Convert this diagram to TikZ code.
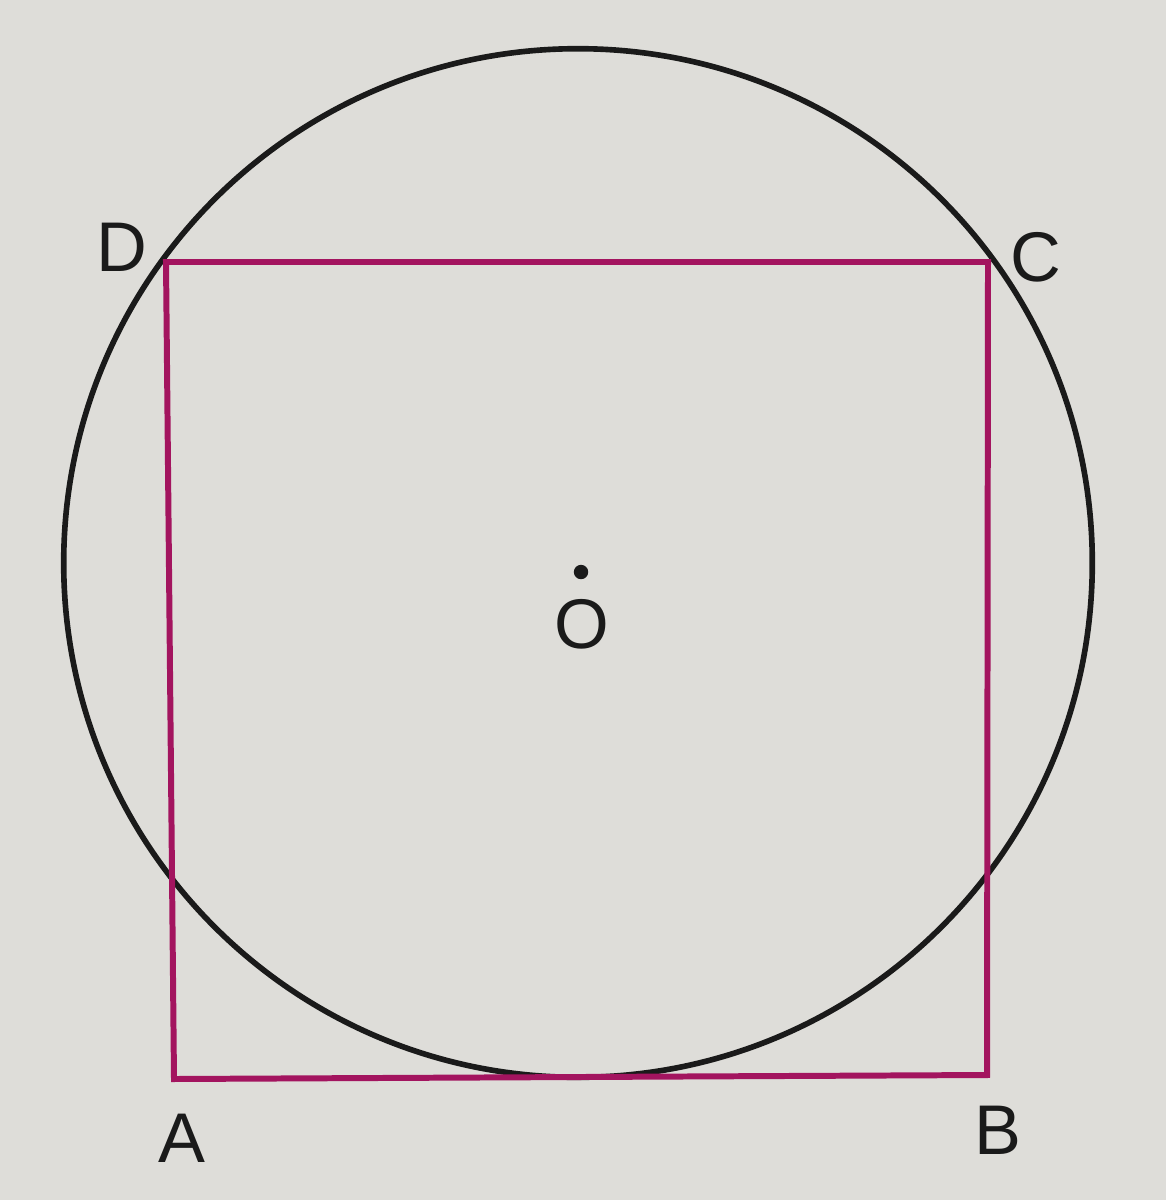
\documentclass[tikz,border=0pt]{standalone}
\usepackage{fontspec}
\setmainfont{Liberation Sans}
\definecolor{bgcol}{HTML}{DEDDD9}
\definecolor{sqcol}{HTML}{A3145F}
\definecolor{inkcol}{HTML}{1A1A1A}
\begin{document}
\begin{tikzpicture}[x=0.01cm,y=-0.01cm,
  lbl/.style={font=\fontsize{20}{24}\selectfont, text=inkcol, inner sep=0pt},
  circ/.style={draw=inkcol, line width=1.6pt},
  sq/.style={draw=sqcol, line width=1.7pt, line join=miter}]
\fill[bgcol] (0,0) rectangle (1166,1200);
\useasboundingbox (0,0) rectangle (1166,1200);
\coordinate (O) at (578,563);
\draw[circ] (O) circle [radius=5.14cm];
\coordinate (A) at (174,1079);
\coordinate (B) at (987,1075);
\coordinate (C) at (988,262);
\coordinate (D) at (166,262);
\draw[sq] (A) -- (B) -- (C) -- (D) -- cycle;
\fill[inkcol] (581,572) circle [radius=0.072cm];
\node[lbl] (lO) at (582,624) {O};
\node[lbl] (lA) at (182,1138) {A};
\node[lbl] (lB) at (998,1130) {B};
\node[lbl] (lC) at (1036,257) {C};
\node[lbl] (lD) at (122,247) {D};
\end{tikzpicture}
\end{document}
